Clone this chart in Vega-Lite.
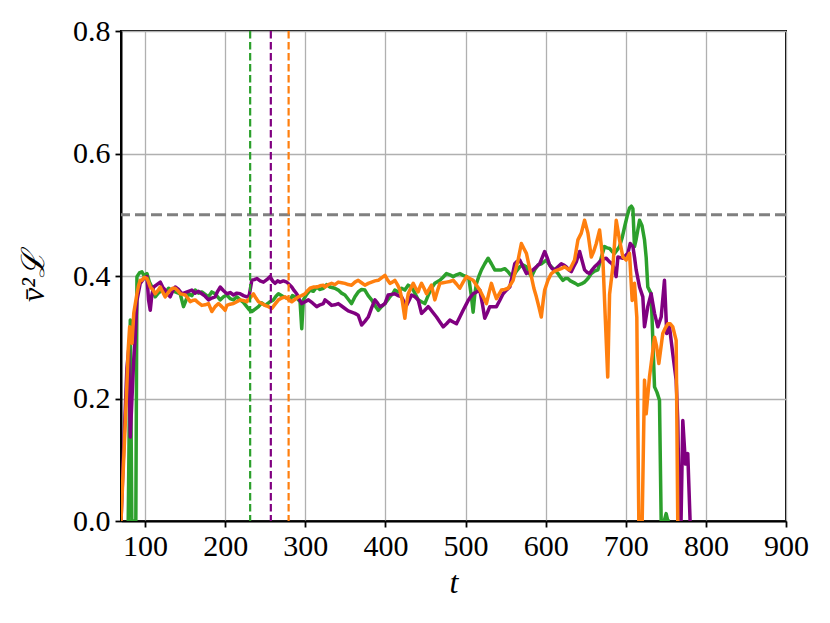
{
  "$schema": "https://vega.github.io/schema/vega-lite/v6.json",
  "width": 665,
  "height": 490,
  "autosize": "none",
  "padding": {"left": 121, "top": 31, "right": 44, "bottom": 102},
  "background": "white",
  "config": {
    "view": {"stroke": "black", "strokeWidth": 2},
    "font": "Liberation Serif",
    "axis": {
      "grid": true, "gridColor": "#b0b0b0", "gridWidth": 1.3,
      "domain": true, "domainColor": "black", "domainWidth": 2,
      "tickColor": "black", "tickWidth": 1.8, "tickSize": 6,
      "labelFlush": false, "labelOverlap": false,
      "labelColor": "black", "labelFontSize": 30, "labelFont": "Liberation Serif",
      "titleColor": "black", "titleFont": "Liberation Serif", "titleFontWeight": "normal", "titleFontSize": 32, "titleFontStyle": "italic"
    }
  },
  "datasets": {
    "series": [
      {"s":"g","t":79,"v":0.0},{"s":"g","t":81.6,"v":0.328},{"s":"g","t":83.5,"v":0.0},{"s":"g","t":88.5,"v":0.0},{"s":"g","t":89.9,"v":0.399},{"s":"g","t":93,"v":0.405},{"s":"g","t":96.1,"v":0.407},{"s":"g","t":99,"v":0.4},{"s":"g","t":102.4,"v":0.404},{"s":"g","t":105.5,"v":0.39},{"s":"g","t":108.6,"v":0.382},{"s":"g","t":112.7,"v":0.366},{"s":"g","t":116.5,"v":0.372},{"s":"g","t":121,"v":0.377},{"s":"g","t":125,"v":0.372},{"s":"g","t":129.4,"v":0.38},{"s":"g","t":133.5,"v":0.376},{"s":"g","t":137.7,"v":0.374},{"s":"g","t":143.9,"v":0.371},{"s":"g","t":148,"v":0.35},{"s":"g","t":154.3,"v":0.371},{"s":"g","t":158.5,"v":0.368},{"s":"g","t":162.6,"v":0.377},{"s":"g","t":166.8,"v":0.372},{"s":"g","t":170.9,"v":0.374},{"s":"g","t":175,"v":0.37},{"s":"g","t":179.2,"v":0.366},{"s":"g","t":183.3,"v":0.374},{"s":"g","t":187.5,"v":0.371},{"s":"g","t":193.8,"v":0.361},{"s":"g","t":198,"v":0.366},{"s":"g","t":202.1,"v":0.369},{"s":"g","t":206.2,"v":0.363},{"s":"g","t":210.4,"v":0.361},{"s":"g","t":214.5,"v":0.366},{"s":"g","t":218.7,"v":0.361},{"s":"g","t":222.8,"v":0.357},{"s":"g","t":227,"v":0.35},{"s":"g","t":230,"v":0.345},{"s":"g","t":233.3,"v":0.342},{"s":"g","t":237.5,"v":0.346},{"s":"g","t":241.6,"v":0.35},{"s":"g","t":245.7,"v":0.356},{"s":"g","t":249.9,"v":0.352},{"s":"g","t":255,"v":0.357},{"s":"g","t":260.3,"v":0.361},{"s":"g","t":263.4,"v":0.367},{"s":"g","t":266.5,"v":0.371},{"s":"g","t":272.7,"v":0.366},{"s":"g","t":276.8,"v":0.364},{"s":"g","t":281,"v":0.361},{"s":"g","t":284,"v":0.368},{"s":"g","t":287.3,"v":0.366},{"s":"g","t":291,"v":0.362},{"s":"g","t":293.5,"v":0.358},{"s":"g","t":295.6,"v":0.314},{"s":"g","t":297.6,"v":0.361},{"s":"g","t":301.7,"v":0.37},{"s":"g","t":306,"v":0.377},{"s":"g","t":310,"v":0.375},{"s":"g","t":314.3,"v":0.382},{"s":"g","t":318.4,"v":0.378},{"s":"g","t":322.6,"v":0.38},{"s":"g","t":326.7,"v":0.386},{"s":"g","t":330.9,"v":0.382},{"s":"g","t":336.9,"v":0.38},{"s":"g","t":341.2,"v":0.377},{"s":"g","t":345.3,"v":0.372},{"s":"g","t":349.5,"v":0.369},{"s":"g","t":353.6,"v":0.362},{"s":"g","t":357.8,"v":0.355},{"s":"g","t":362,"v":0.366},{"s":"g","t":366.1,"v":0.374},{"s":"g","t":370.2,"v":0.378},{"s":"g","t":374.4,"v":0.377},{"s":"g","t":378.5,"v":0.368},{"s":"g","t":382.8,"v":0.361},{"s":"g","t":386.9,"v":0.352},{"s":"g","t":391.1,"v":0.344},{"s":"g","t":395.2,"v":0.35},{"s":"g","t":399.4,"v":0.355},{"s":"g","t":403.5,"v":0.362},{"s":"g","t":405.6,"v":0.366},{"s":"g","t":409.7,"v":0.372},{"s":"g","t":411.8,"v":0.377},{"s":"g","t":416,"v":0.374},{"s":"g","t":420.1,"v":0.38},{"s":"g","t":424.3,"v":0.377},{"s":"g","t":428.4,"v":0.385},{"s":"g","t":432.6,"v":0.382},{"s":"g","t":436.8,"v":0.372},{"s":"g","t":440.9,"v":0.361},{"s":"g","t":445,"v":0.358},{"s":"g","t":449.2,"v":0.355},{"s":"g","t":453.3,"v":0.368},{"s":"g","t":457.5,"v":0.38},{"s":"g","t":461.7,"v":0.388},{"s":"g","t":468,"v":0.393},{"s":"g","t":472,"v":0.398},{"s":"g","t":476.3,"v":0.404},{"s":"g","t":480.4,"v":0.402},{"s":"g","t":484.6,"v":0.399},{"s":"g","t":488.7,"v":0.402},{"s":"g","t":492.9,"v":0.404},{"s":"g","t":497,"v":0.401},{"s":"g","t":501.2,"v":0.399},{"s":"g","t":504.3,"v":0.395},{"s":"g","t":507.4,"v":0.366},{"s":"g","t":509.5,"v":0.341},{"s":"g","t":511.6,"v":0.37},{"s":"g","t":513.7,"v":0.388},{"s":"g","t":516.8,"v":0.4},{"s":"g","t":519.9,"v":0.41},{"s":"g","t":524,"v":0.42},{"s":"g","t":528.2,"v":0.429},{"s":"g","t":532.3,"v":0.42},{"s":"g","t":536.5,"v":0.41},{"s":"g","t":540.6,"v":0.41},{"s":"g","t":544.8,"v":0.41},{"s":"g","t":549,"v":0.412},{"s":"g","t":553.1,"v":0.407},{"s":"g","t":556,"v":0.402},{"s":"g","t":559.4,"v":0.399},{"s":"g","t":563.5,"v":0.408},{"s":"g","t":567.7,"v":0.415},{"s":"g","t":571.8,"v":0.418},{"s":"g","t":576,"v":0.415},{"s":"g","t":579,"v":0.406},{"s":"g","t":582.2,"v":0.399},{"s":"g","t":586.3,"v":0.41},{"s":"g","t":590.5,"v":0.418},{"s":"g","t":594.6,"v":0.42},{"s":"g","t":598.8,"v":0.424},{"s":"g","t":600.8,"v":0.426},{"s":"g","t":604,"v":0.42},{"s":"g","t":607,"v":0.415},{"s":"g","t":611,"v":0.41},{"s":"g","t":615.4,"v":0.404},{"s":"g","t":618.5,"v":0.398},{"s":"g","t":621.6,"v":0.393},{"s":"g","t":624.7,"v":0.396},{"s":"g","t":627.8,"v":0.396},{"s":"g","t":631,"v":0.392},{"s":"g","t":634,"v":0.39},{"s":"g","t":637,"v":0.388},{"s":"g","t":640.3,"v":0.385},{"s":"g","t":644.5,"v":0.387},{"s":"g","t":648.6,"v":0.39},{"s":"g","t":652.8,"v":0.396},{"s":"g","t":657,"v":0.404},{"s":"g","t":661.1,"v":0.408},{"s":"g","t":665.2,"v":0.41},{"s":"g","t":669.4,"v":0.43},{"s":"g","t":673.5,"v":0.448},{"s":"g","t":676.7,"v":0.446},{"s":"g","t":679.8,"v":0.445},{"s":"g","t":683,"v":0.44},{"s":"g","t":686,"v":0.437},{"s":"g","t":689,"v":0.442},{"s":"g","t":692.2,"v":0.448},{"s":"g","t":695.4,"v":0.462},{"s":"g","t":698.5,"v":0.48},{"s":"g","t":701.6,"v":0.497},{"s":"g","t":704.7,"v":0.511},{"s":"g","t":707,"v":0.514},{"s":"g","t":708.9,"v":0.51},{"s":"g","t":710.9,"v":0.448},{"s":"g","t":713,"v":0.46},{"s":"g","t":717.2,"v":0.491},{"s":"g","t":720.3,"v":0.482},{"s":"g","t":723.4,"v":0.459},{"s":"g","t":725.5,"v":0.43},{"s":"g","t":727.5,"v":0.382},{"s":"g","t":731.7,"v":0.371},{"s":"g","t":735.9,"v":0.219},{"s":"g","t":739,"v":0.21},{"s":"g","t":742.1,"v":0.197},{"s":"g","t":744.2,"v":0.0},{"s":"g","t":748,"v":0.0},{"s":"g","t":750.4,"v":0.012},{"s":"g","t":752.5,"v":0.0},{"s":"g","t":755,"v":0.0},

      {"s":"p","t":70,"v":0.0},{"s":"p","t":74,"v":0.14},{"s":"p","t":77.4,"v":0.25},{"s":"p","t":79.5,"v":0.279},{"s":"p","t":81.6,"v":0.137},{"s":"p","t":83.7,"v":0.2},{"s":"p","t":85.8,"v":0.262},{"s":"p","t":87.8,"v":0.3},{"s":"p","t":89.9,"v":0.36},{"s":"p","t":94,"v":0.388},{"s":"p","t":98,"v":0.395},{"s":"p","t":102.4,"v":0.399},{"s":"p","t":104.4,"v":0.361},{"s":"p","t":106.5,"v":0.344},{"s":"p","t":108.6,"v":0.37},{"s":"p","t":110.7,"v":0.382},{"s":"p","t":114.8,"v":0.386},{"s":"p","t":119,"v":0.39},{"s":"p","t":122,"v":0.382},{"s":"p","t":125.2,"v":0.377},{"s":"p","t":128.3,"v":0.37},{"s":"p","t":131.4,"v":0.366},{"s":"p","t":134.6,"v":0.376},{"s":"p","t":137.7,"v":0.382},{"s":"p","t":141.9,"v":0.378},{"s":"p","t":146,"v":0.371},{"s":"p","t":150,"v":0.373},{"s":"p","t":154.2,"v":0.375},{"s":"p","t":158.4,"v":0.377},{"s":"p","t":162.5,"v":0.372},{"s":"p","t":166.7,"v":0.375},{"s":"p","t":170.9,"v":0.371},{"s":"p","t":175,"v":0.367},{"s":"p","t":179.2,"v":0.361},{"s":"p","t":183.3,"v":0.364},{"s":"p","t":187.5,"v":0.366},{"s":"p","t":190.6,"v":0.375},{"s":"p","t":193.8,"v":0.382},{"s":"p","t":198,"v":0.376},{"s":"p","t":202.1,"v":0.371},{"s":"p","t":206.2,"v":0.373},{"s":"p","t":210.4,"v":0.369},{"s":"p","t":214.5,"v":0.372},{"s":"p","t":218.7,"v":0.371},{"s":"p","t":222.8,"v":0.368},{"s":"p","t":227,"v":0.366},{"s":"p","t":230,"v":0.368},{"s":"p","t":233.3,"v":0.393},{"s":"p","t":236.4,"v":0.394},{"s":"p","t":239.5,"v":0.396},{"s":"p","t":243.6,"v":0.392},{"s":"p","t":247.8,"v":0.39},{"s":"p","t":252,"v":0.394},{"s":"p","t":256.1,"v":0.399},{"s":"p","t":259.2,"v":0.392},{"s":"p","t":262.3,"v":0.388},{"s":"p","t":265.4,"v":0.392},{"s":"p","t":268.6,"v":0.39},{"s":"p","t":272.7,"v":0.392},{"s":"p","t":276.9,"v":0.39},{"s":"p","t":280,"v":0.386},{"s":"p","t":283.1,"v":0.382},{"s":"p","t":286.2,"v":0.376},{"s":"p","t":289.3,"v":0.371},{"s":"p","t":292.5,"v":0.362},{"s":"p","t":295.6,"v":0.355},{"s":"p","t":299.8,"v":0.358},{"s":"p","t":303.9,"v":0.361},{"s":"p","t":309,"v":0.356},{"s":"p","t":314.3,"v":0.35},{"s":"p","t":318.4,"v":0.353},{"s":"p","t":322.6,"v":0.355},{"s":"p","t":324.6,"v":0.361},{"s":"p","t":328.7,"v":0.357},{"s":"p","t":332.9,"v":0.352},{"s":"p","t":337,"v":0.353},{"s":"p","t":341.2,"v":0.355},{"s":"p","t":345.3,"v":0.351},{"s":"p","t":349.5,"v":0.347},{"s":"p","t":353.6,"v":0.343},{"s":"p","t":357.8,"v":0.341},{"s":"p","t":362,"v":0.339},{"s":"p","t":366.1,"v":0.336},{"s":"p","t":370.3,"v":0.32},{"s":"p","t":374.4,"v":0.326},{"s":"p","t":378.6,"v":0.333},{"s":"p","t":382.8,"v":0.348},{"s":"p","t":386.9,"v":0.361},{"s":"p","t":390,"v":0.356},{"s":"p","t":393.1,"v":0.35},{"s":"p","t":396.2,"v":0.352},{"s":"p","t":399.4,"v":0.355},{"s":"p","t":403.5,"v":0.369},{"s":"p","t":407.7,"v":0.37},{"s":"p","t":411.8,"v":0.371},{"s":"p","t":416,"v":0.368},{"s":"p","t":420.1,"v":0.366},{"s":"p","t":423.2,"v":0.358},{"s":"p","t":426.4,"v":0.352},{"s":"p","t":429.5,"v":0.36},{"s":"p","t":432.6,"v":0.369},{"s":"p","t":436.8,"v":0.366},{"s":"p","t":440.9,"v":0.361},{"s":"p","t":443,"v":0.35},{"s":"p","t":445.1,"v":0.339},{"s":"p","t":449.2,"v":0.344},{"s":"p","t":453.4,"v":0.35},{"s":"p","t":455.5,"v":0.347},{"s":"p","t":459.6,"v":0.34},{"s":"p","t":463.8,"v":0.333},{"s":"p","t":468,"v":0.325},{"s":"p","t":472.1,"v":0.317},{"s":"p","t":476.3,"v":0.322},{"s":"p","t":480.4,"v":0.328},{"s":"p","t":484.6,"v":0.325},{"s":"p","t":488.7,"v":0.322},{"s":"p","t":492.9,"v":0.333},{"s":"p","t":497,"v":0.344},{"s":"p","t":500.2,"v":0.352},{"s":"p","t":503.3,"v":0.36},{"s":"p","t":506.4,"v":0.366},{"s":"p","t":509.5,"v":0.371},{"s":"p","t":513.7,"v":0.374},{"s":"p","t":517.8,"v":0.377},{"s":"p","t":521,"v":0.355},{"s":"p","t":524,"v":0.331},{"s":"p","t":527.2,"v":0.34},{"s":"p","t":530.3,"v":0.35},{"s":"p","t":534.5,"v":0.35},{"s":"p","t":538.6,"v":0.35},{"s":"p","t":542.7,"v":0.36},{"s":"p","t":546.9,"v":0.371},{"s":"p","t":551,"v":0.377},{"s":"p","t":555.2,"v":0.382},{"s":"p","t":558.3,"v":0.4},{"s":"p","t":561.4,"v":0.42},{"s":"p","t":564.5,"v":0.424},{"s":"p","t":567.7,"v":0.426},{"s":"p","t":571.8,"v":0.415},{"s":"p","t":576,"v":0.404},{"s":"p","t":580.1,"v":0.407},{"s":"p","t":584.3,"v":0.41},{"s":"p","t":588.5,"v":0.415},{"s":"p","t":592.6,"v":0.42},{"s":"p","t":595.7,"v":0.43},{"s":"p","t":598.8,"v":0.44},{"s":"p","t":601.9,"v":0.43},{"s":"p","t":605,"v":0.418},{"s":"p","t":608,"v":0.412},{"s":"p","t":611.2,"v":0.41},{"s":"p","t":615.4,"v":0.415},{"s":"p","t":619.5,"v":0.42},{"s":"p","t":622.6,"v":0.418},{"s":"p","t":625.8,"v":0.415},{"s":"p","t":628.9,"v":0.41},{"s":"p","t":632,"v":0.407},{"s":"p","t":635,"v":0.415},{"s":"p","t":638.2,"v":0.423},{"s":"p","t":642.4,"v":0.44},{"s":"p","t":645.5,"v":0.425},{"s":"p","t":648.6,"v":0.41},{"s":"p","t":651.7,"v":0.406},{"s":"p","t":654.8,"v":0.404},{"s":"p","t":658,"v":0.41},{"s":"p","t":661.1,"v":0.415},{"s":"p","t":665.2,"v":0.42},{"s":"p","t":669.4,"v":0.426},{"s":"p","t":672.5,"v":0.428},{"s":"p","t":675.6,"v":0.429},{"s":"p","t":679.8,"v":0.423},{"s":"p","t":683,"v":0.42},{"s":"p","t":686,"v":0.41},{"s":"p","t":688,"v":0.399},{"s":"p","t":690.2,"v":0.431},{"s":"p","t":693.3,"v":0.43},{"s":"p","t":696.4,"v":0.429},{"s":"p","t":699.5,"v":0.433},{"s":"p","t":702.6,"v":0.437},{"s":"p","t":705.5,"v":0.453},{"s":"p","t":708.9,"v":0.448},{"s":"p","t":711,"v":0.43},{"s":"p","t":713,"v":0.41},{"s":"p","t":717.2,"v":0.382},{"s":"p","t":721.3,"v":0.366},{"s":"p","t":723.4,"v":0.317},{"s":"p","t":727.5,"v":0.35},{"s":"p","t":731.7,"v":0.371},{"s":"p","t":735.9,"v":0.339},{"s":"p","t":740,"v":0.317},{"s":"p","t":744.2,"v":0.333},{"s":"p","t":748.3,"v":0.393},{"s":"p","t":751.2,"v":0.306},{"s":"p","t":754.6,"v":0.317},{"s":"p","t":758.7,"v":0.273},{"s":"p","t":762.9,"v":0.23},{"s":"p","t":764.9,"v":0.164},{"s":"p","t":767,"v":0.0},{"s":"p","t":769,"v":0.0},{"s":"p","t":771.2,"v":0.164},{"s":"p","t":774.5,"v":0.093},{"s":"p","t":777.4,"v":0.11},{"s":"p","t":780.3,"v":0.0},

      {"s":"o","t":70,"v":0.0},{"s":"o","t":74,"v":0.12},{"s":"o","t":77.4,"v":0.224},{"s":"o","t":79,"v":0.28},{"s":"o","t":80.8,"v":0.317},{"s":"o","t":82.5,"v":0.3},{"s":"o","t":83.7,"v":0.29},{"s":"o","t":86,"v":0.34},{"s":"o","t":89.9,"v":0.371},{"s":"o","t":92,"v":0.385},{"s":"o","t":94,"v":0.393},{"s":"o","t":96.1,"v":0.393},{"s":"o","t":99,"v":0.398},{"s":"o","t":102.4,"v":0.396},{"s":"o","t":104.4,"v":0.39},{"s":"o","t":106.5,"v":0.382},{"s":"o","t":109.6,"v":0.378},{"s":"o","t":112.7,"v":0.371},{"s":"o","t":116,"v":0.376},{"s":"o","t":119,"v":0.382},{"s":"o","t":122,"v":0.374},{"s":"o","t":125.2,"v":0.366},{"s":"o","t":128.3,"v":0.372},{"s":"o","t":131.4,"v":0.377},{"s":"o","t":134.6,"v":0.38},{"s":"o","t":137.7,"v":0.38},{"s":"o","t":140.8,"v":0.376},{"s":"o","t":143.9,"v":0.371},{"s":"o","t":147,"v":0.37},{"s":"o","t":150.1,"v":0.369},{"s":"o","t":153.3,"v":0.364},{"s":"o","t":156.4,"v":0.358},{"s":"o","t":159.5,"v":0.36},{"s":"o","t":162.6,"v":0.361},{"s":"o","t":166.8,"v":0.356},{"s":"o","t":170.9,"v":0.352},{"s":"o","t":175,"v":0.353},{"s":"o","t":179.2,"v":0.355},{"s":"o","t":183.4,"v":0.342},{"s":"o","t":187.5,"v":0.35},{"s":"o","t":191.7,"v":0.355},{"s":"o","t":195.8,"v":0.35},{"s":"o","t":200,"v":0.344},{"s":"o","t":202.1,"v":0.352},{"s":"o","t":206.2,"v":0.354},{"s":"o","t":210.4,"v":0.355},{"s":"o","t":214.5,"v":0.358},{"s":"o","t":218.7,"v":0.361},{"s":"o","t":222.8,"v":0.36},{"s":"o","t":227,"v":0.358},{"s":"o","t":231,"v":0.364},{"s":"o","t":235.3,"v":0.371},{"s":"o","t":238.4,"v":0.364},{"s":"o","t":241.6,"v":0.358},{"s":"o","t":245.7,"v":0.355},{"s":"o","t":249.9,"v":0.352},{"s":"o","t":254,"v":0.35},{"s":"o","t":258.2,"v":0.347},{"s":"o","t":262.3,"v":0.354},{"s":"o","t":266.5,"v":0.361},{"s":"o","t":270.6,"v":0.364},{"s":"o","t":274.8,"v":0.366},{"s":"o","t":279,"v":0.362},{"s":"o","t":283.1,"v":0.358},{"s":"o","t":287.2,"v":0.362},{"s":"o","t":291.4,"v":0.366},{"s":"o","t":295.5,"v":0.368},{"s":"o","t":299.7,"v":0.371},{"s":"o","t":302.8,"v":0.376},{"s":"o","t":305.9,"v":0.38},{"s":"o","t":310,"v":0.382},{"s":"o","t":314.3,"v":0.382},{"s":"o","t":318.4,"v":0.384},{"s":"o","t":322.6,"v":0.385},{"s":"o","t":324.6,"v":0.382},{"s":"o","t":328.7,"v":0.386},{"s":"o","t":332.9,"v":0.388},{"s":"o","t":337,"v":0.386},{"s":"o","t":341.2,"v":0.39},{"s":"o","t":345.3,"v":0.389},{"s":"o","t":349.5,"v":0.388},{"s":"o","t":353.6,"v":0.386},{"s":"o","t":357.8,"v":0.385},{"s":"o","t":362,"v":0.39},{"s":"o","t":366.1,"v":0.393},{"s":"o","t":370.2,"v":0.389},{"s":"o","t":374.4,"v":0.385},{"s":"o","t":378.6,"v":0.388},{"s":"o","t":382.8,"v":0.39},{"s":"o","t":387,"v":0.392},{"s":"o","t":391.1,"v":0.393},{"s":"o","t":395.2,"v":0.397},{"s":"o","t":399.4,"v":0.401},{"s":"o","t":402.5,"v":0.394},{"s":"o","t":405.6,"v":0.388},{"s":"o","t":408.7,"v":0.39},{"s":"o","t":411.8,"v":0.393},{"s":"o","t":415,"v":0.386},{"s":"o","t":418.1,"v":0.377},{"s":"o","t":421,"v":0.36},{"s":"o","t":424.3,"v":0.331},{"s":"o","t":426.4,"v":0.355},{"s":"o","t":428.5,"v":0.371},{"s":"o","t":431.6,"v":0.38},{"s":"o","t":434.7,"v":0.388},{"s":"o","t":437.8,"v":0.38},{"s":"o","t":440.9,"v":0.374},{"s":"o","t":443,"v":0.382},{"s":"o","t":445.1,"v":0.388},{"s":"o","t":448.2,"v":0.38},{"s":"o","t":451.3,"v":0.371},{"s":"o","t":454.4,"v":0.378},{"s":"o","t":457.5,"v":0.385},{"s":"o","t":461.7,"v":0.361},{"s":"o","t":465,"v":0.376},{"s":"o","t":468,"v":0.388},{"s":"o","t":472,"v":0.389},{"s":"o","t":476.3,"v":0.39},{"s":"o","t":480.4,"v":0.391},{"s":"o","t":484.6,"v":0.393},{"s":"o","t":488.7,"v":0.387},{"s":"o","t":492.9,"v":0.38},{"s":"o","t":497,"v":0.39},{"s":"o","t":501.2,"v":0.399},{"s":"o","t":505.3,"v":0.396},{"s":"o","t":509.5,"v":0.393},{"s":"o","t":513.6,"v":0.385},{"s":"o","t":517.8,"v":0.377},{"s":"o","t":522,"v":0.366},{"s":"o","t":526.1,"v":0.355},{"s":"o","t":529.2,"v":0.372},{"s":"o","t":532.3,"v":0.388},{"s":"o","t":535.4,"v":0.375},{"s":"o","t":538.6,"v":0.363},{"s":"o","t":541.7,"v":0.37},{"s":"o","t":544.8,"v":0.377},{"s":"o","t":549,"v":0.378},{"s":"o","t":553.1,"v":0.38},{"s":"o","t":556.2,"v":0.386},{"s":"o","t":559.4,"v":0.393},{"s":"o","t":562.5,"v":0.41},{"s":"o","t":565.6,"v":0.426},{"s":"o","t":567.7,"v":0.44},{"s":"o","t":569.7,"v":0.453},{"s":"o","t":572.8,"v":0.445},{"s":"o","t":576,"v":0.437},{"s":"o","t":579.1,"v":0.418},{"s":"o","t":582.2,"v":0.399},{"s":"o","t":585.3,"v":0.38},{"s":"o","t":588.4,"v":0.366},{"s":"o","t":591.5,"v":0.35},{"s":"o","t":594.6,"v":0.333},{"s":"o","t":597,"v":0.36},{"s":"o","t":598.8,"v":0.377},{"s":"o","t":602.9,"v":0.393},{"s":"o","t":607.1,"v":0.404},{"s":"o","t":611.2,"v":0.408},{"s":"o","t":615.4,"v":0.41},{"s":"o","t":619.5,"v":0.412},{"s":"o","t":623.7,"v":0.415},{"s":"o","t":626.8,"v":0.412},{"s":"o","t":629.9,"v":0.41},{"s":"o","t":633,"v":0.418},{"s":"o","t":636.1,"v":0.426},{"s":"o","t":640.3,"v":0.459},{"s":"o","t":644.5,"v":0.47},{"s":"o","t":648.6,"v":0.491},{"s":"o","t":652.8,"v":0.47},{"s":"o","t":657,"v":0.431},{"s":"o","t":660,"v":0.44},{"s":"o","t":663.2,"v":0.453},{"s":"o","t":667.3,"v":0.475},{"s":"o","t":671.5,"v":0.426},{"s":"o","t":674.5,"v":0.33},{"s":"o","t":677.5,"v":0.235},{"s":"o","t":679.8,"v":0.37},{"s":"o","t":683.9,"v":0.415},{"s":"o","t":688.1,"v":0.491},{"s":"o","t":692.2,"v":0.459},{"s":"o","t":696.4,"v":0.431},{"s":"o","t":700.5,"v":0.426},{"s":"o","t":704.7,"v":0.437},{"s":"o","t":708,"v":0.36},{"s":"o","t":710.9,"v":0.388},{"s":"o","t":713.8,"v":0.333},{"s":"o","t":716.3,"v":0.0},{"s":"o","t":720.5,"v":0.0},{"s":"o","t":723.4,"v":0.23},{"s":"o","t":725.5,"v":0.175},{"s":"o","t":729.6,"v":0.235},{"s":"o","t":733,"v":0.27},{"s":"o","t":735.9,"v":0.3},{"s":"o","t":738.5,"v":0.285},{"s":"o","t":741.3,"v":0.257},{"s":"o","t":746.2,"v":0.306},{"s":"o","t":749.3,"v":0.315},{"s":"o","t":752.5,"v":0.322},{"s":"o","t":755.6,"v":0.322},{"s":"o","t":758.7,"v":0.317},{"s":"o","t":762.9,"v":0.295},{"s":"o","t":764.9,"v":0.0}
    ],
    "vlines": [
      {"s":"g","t":231.2},{"s":"p","t":257},{"s":"o","t":279.2}
    ],
    "hline": [{"v":0.5}]
  },
  "layer": [
    {
      "data": {"name": "hline"},
      "mark": {"type": "rule", "color": "#808080", "strokeWidth": 3, "strokeDash": [11, 5]},
      "encoding": {
        "y": {"field": "v", "type": "quantitative", "scale": {"domain": [0, 0.8], "nice": false, "zero": false},
          "axis": {"title": "v̄²ℒ", "values": [0, 0.2, 0.4, 0.6, 0.8], "format": ".1f", "titlePadding": 22, "labelPadding": 5}}
      }
    },
    {
      "data": {"name": "series"},
      "transform": [{"filter": "datum.s === 'g'"}],
      "mark": {"type": "line", "color": "#2ca02c", "strokeWidth": 3.5, "strokeJoin": "round", "strokeCap": "butt", "clip": true},
      "encoding": {
        "x": {"field": "t", "type": "quantitative", "scale": {"domain": [70, 900], "nice": false, "zero": false},
          "axis": {"title": "t", "values": [100, 200, 300, 400, 500, 600, 700, 800, 900], "labelPadding": 4, "titlePadding": 6}},
        "y": {"field": "v", "type": "quantitative", "scale": {"domain": [0, 0.8], "nice": false, "zero": false}}
      }
    },
    {
      "data": {"name": "series"},
      "transform": [{"filter": "datum.s === 'p'"}],
      "mark": {"type": "line", "color": "#800080", "strokeWidth": 3.5, "strokeJoin": "round", "strokeCap": "butt", "clip": true},
      "encoding": {
        "x": {"field": "t", "type": "quantitative"},
        "y": {"field": "v", "type": "quantitative"}
      }
    },
    {
      "data": {"name": "series"},
      "transform": [{"filter": "datum.s === 'o'"}],
      "mark": {"type": "line", "color": "#ff7f0e", "strokeWidth": 3.5, "strokeJoin": "round", "strokeCap": "butt", "clip": true},
      "encoding": {
        "x": {"field": "t", "type": "quantitative"},
        "y": {"field": "v", "type": "quantitative"}
      }
    },
    {
      "data": {"name": "vlines"},
      "mark": {"type": "rule", "strokeWidth": 2.2, "strokeDash": [7.5, 3.5]},
      "encoding": {
        "x": {"field": "t", "type": "quantitative"},
        "color": {"field": "s", "type": "nominal", "scale": {"domain": ["g", "p", "o"], "range": ["#2ca02c", "#800080", "#ff7f0e"]}, "legend": null}
      }
    }
  ]
}
